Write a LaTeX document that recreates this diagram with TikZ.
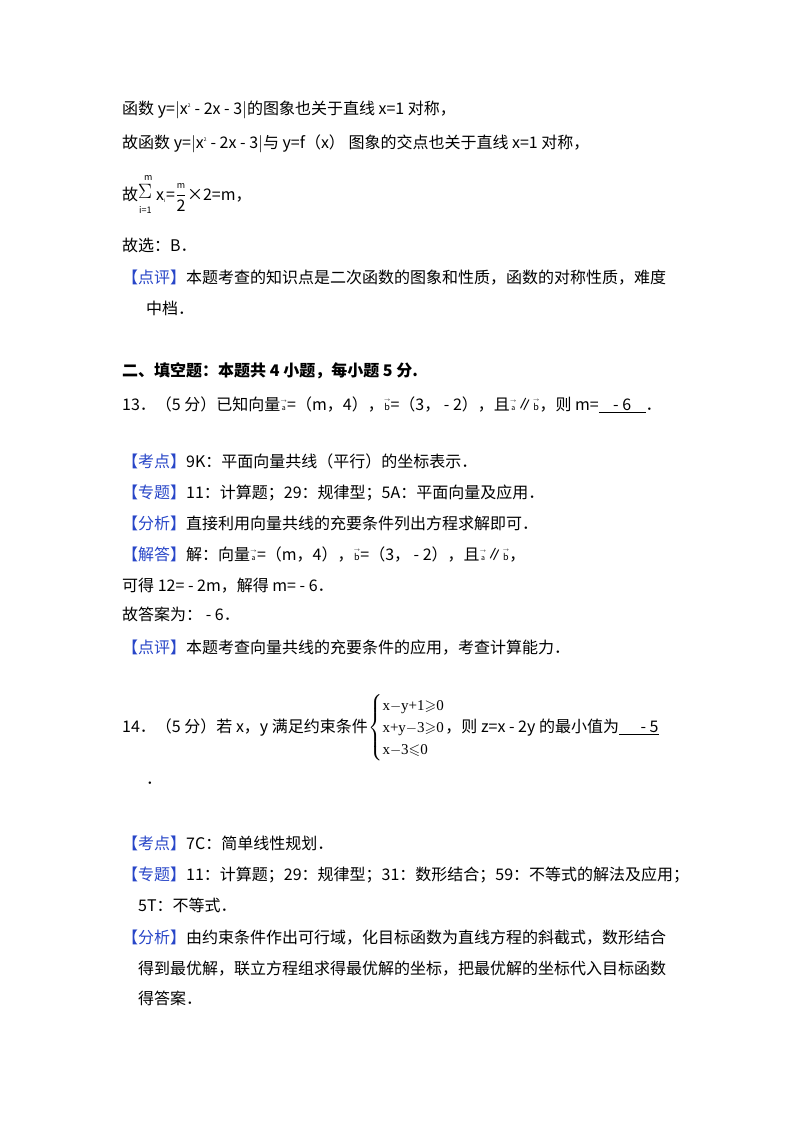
\documentclass[tikz,border=0pt]{standalone}
\usepackage{amsmath,amssymb}
\usepackage{fontspec}
\setmainfont{Noto Sans CJK SC}
\newfontfamily\serifx{Liberation Serif}
\definecolor{kb}{RGB}{40,70,200}
\newcommand{\kb}[1]{\textcolor{kb}{#1}}
\newcommand{\va}{\ooalign{\raisebox{0.45em}{\tiny$\rightarrow$}\cr\hfil{\scriptsize a}\hfil}}
\newcommand{\vb}{\ooalign{\raisebox{0.55em}{\tiny$\rightarrow$}\cr\hfil{\small b}\hfil}}
\begin{document}
\begin{tikzpicture}[x=1pt,y=-1pt,every node/.style={anchor=base west,inner sep=0pt,font=\fontsize{16}{19}\selectfont}]
\useasboundingbox (0,0) rectangle (800,1132);
\fill[white] (0,0) rectangle (800,1132);
\node (l1) at (122,114) {函数 y=$|$x\textsuperscript{\tiny 2} - 2x - 3$|$的图象也关于直线 x=1 对称，};
\node (l2) at (122,148) {故函数 y=$|$x\textsuperscript{\tiny 2} - 2x - 3$|$与 y=f（x） 图象的交点也关于直线 x=1 对称，};
\node (l3) at (122,200) {故};
\node (sig) at (138,198) {\fontsize{20}{20}\selectfont$\Sigma$};
\node (sm) at (144,180) {\fontsize{9}{9}\selectfont m};
\node (si) at (139,213) {\fontsize{9}{9}\selectfont i=1};
\node (l3b) at (156,200) {x\textsubscript{\tiny i}=};
\node (fr) at (l3b.base east) {$\displaystyle\frac{\mbox{\small m}}{\mbox{2}}$};
\node (l3c) at (fr.base east) {×2=m，};
\node (l4) at (122,251) {故选：B．};
\node (l5) at (122,283) {\kb{【点评】}本题考查的知识点是二次函数的图象和性质，函数的对称性质，难度};
\node (l6) at (146,314) {中档．};
\node (h2) at (122,376) {\bfseries 二、填空题：本题共 4 小题，每小题 5 分.};
\node (q13) at (122,410) {13．（5 分）已知向量\va=（m，4），\vb=（3， - 2），且\va∥\vb，则 m=\underline{\ \ \ \ - 6\ \ \ \ }．};
\node (a1) at (122,467) {\kb{【考点】}9K：平面向量共线（平行）的坐标表示．};
\node (a2) at (122,498) {\kb{【专题】}11：计算题；29：规律型；5A：平面向量及应用．};
\node (a3) at (122,529) {\kb{【分析】}直接利用向量共线的充要条件列出方程求解即可．};
\node (a4) at (122,560) {\kb{【解答】}解：向量\va=（m，4），\vb=（3， - 2），且\va∥\vb，};
\node (a5) at (122,591) {可得 12= - 2m，解得 m= - 6．};
\node (a6) at (122,620) {故答案为： - 6．};
\node (a7) at (122,653) {\kb{【点评】}本题考查向量共线的充要条件的应用，考查计算能力．};
\node (q14) at (122,732) {14．（5 分）若 x，y 满足约束条件};
\node (sys) at (q14.base east) {$\left\{\vcenter{\hbox{\serifx\fontsize{15}{22}\selectfont\begin{tabular}{@{}l@{}}x$-$y+1$\geqslant$0\\x+y$-$3$\geqslant$0\\x$-$3$\leqslant$0\end{tabular}}}\right.$};
\node (q14b) at (sys.base east) {，则 z=x - 2y 的最小值为\underline{\ \ \ \ \ \ - 5}};
\node (dot) at (146,784) {．};
\node (b1) at (122,849) {\kb{【考点】}7C：简单线性规划．};
\node (b2) at (122,880) {\kb{【专题】}11：计算题；29：规律型；31：数形结合；59：不等式的解法及应用；};
\node (b3) at (138,911) {5T：不等式．};
\node (b4) at (122,943) {\kb{【分析】}由约束条件作出可行域，化目标函数为直线方程的斜截式，数形结合};
\node (b5) at (138,974) {得到最优解，联立方程组求得最优解的坐标，把最优解的坐标代入目标函数};
\node (b6) at (138,1004) {得答案．};
\end{tikzpicture}
\end{document}
